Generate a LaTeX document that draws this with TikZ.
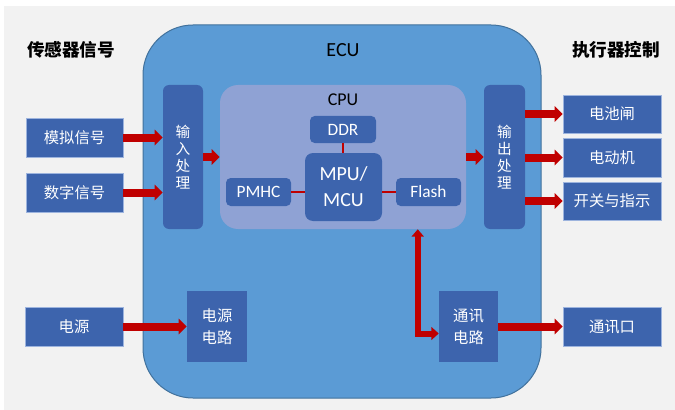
\documentclass[tikz,border=0pt]{standalone}
\usepackage{fontspec}
\setmainfont{Carlito}
\newfontfamily\cjk{Noto Sans CJK SC}
\usetikzlibrary{arrows.meta}
\definecolor{pagebg}{HTML}{F2F2F2}
\definecolor{ecufill}{HTML}{5B9BD5}
\definecolor{eculine}{HTML}{41719C}
\definecolor{boxblue}{HTML}{3D64AD}
\definecolor{boxedge}{HTML}{9DB4DE}
\definecolor{cpufill}{HTML}{8FA2D4}
\definecolor{sigred}{HTML}{C00000}
\tikzset{
  blockbox/.style={fill=boxblue, text=white, inner sep=0pt, align=center,
    font=\cjk\fontsize{11.5}{16.5}\selectfont},
  outerbox/.style={blockbox, draw=boxedge, line width=0.6pt},
  procbox/.style={blockbox, rounded corners=4.5pt, minimum width=30pt, minimum height=108pt,
    font=\cjk\fontsize{11}{12.6}\selectfont},
  chipbox/.style={fill=boxblue, text=white, inner sep=0pt, rounded corners=3.5pt,
    font=\fontsize{13}{15}\selectfont},
  heading/.style={font=\cjk\bfseries\fontsize{13.2}{15}\selectfont, text=black, inner sep=0pt},
  bigarrow/.style={draw=sigred, line width=6pt, -{Triangle[length=6pt,width=11.5pt]}},
  busarrow/.style={draw=sigred, line width=4.5pt,
    {Triangle[length=5.5pt,width=9pt]}-{Triangle[length=5.5pt,width=9.5pt]}},
  thinred/.style={draw=sigred, line width=1.5pt}
}
\begin{document}
\begin{tikzpicture}[x=0.75pt,y=-0.75pt]
\useasboundingbox (0,0) rectangle (675,410);
% page background
\fill[white] (0,0) rectangle (675,410);
\fill[pagebg] (4,6) rectangle (675,410);

% ECU housing
\draw[fill=ecufill, draw=eculine, line width=0.75pt, rounded corners=37.5pt]
  (143,25) rectangle (541,398);

% headings
\node[heading] (tsens) at (71,50) {传感器信号};
\node[heading] (tact) at (616,50) {执行器控制};
\node[font=\fontsize{15}{18}\selectfont, inner sep=0pt] (tecu) at (343,50) {ECU};

% sensor inputs
\node[outerbox, minimum width=72.75pt, minimum height=29.25pt] (ana) at (74.5,137.5) {模拟信号};
\node[outerbox, minimum width=72.75pt, minimum height=29.25pt] (dig) at (74.5,192.5) {数字信号};

% input / output stages
\node[procbox] (inproc) at (183,157) {输\\入\\处\\理};
\node[procbox, minimum width=30.75pt] (outproc) at (504.5,157) {输\\出\\处\\理};

% CPU block
\node[fill=cpufill, rounded corners=13.5pt, minimum width=184.5pt, minimum height=108pt, inner sep=0pt] (cpu) at (343,157) {};
\node[font=\fontsize{13.5}{16}\selectfont, inner sep=0pt] (cpulbl) at (343,100) {CPU};
\node[chipbox, minimum width=49.5pt, minimum height=20.25pt] (ddr) at (343,129.5) {DDR};
\node[chipbox, rounded corners=6pt, minimum width=57.75pt, minimum height=51pt, align=center,
  font=\fontsize{15}{19.5}\selectfont] (mpu) at (343.5,187) {MPU/\\MCU};
\node[chipbox, minimum width=48.75pt, minimum height=21pt] (pmhc) at (258.5,192) {PMHC};
\node[chipbox, minimum width=48.75pt, minimum height=21pt] (flash) at (428.5,192) {Flash};

\draw[thinred] (ddr.south) -- (ddr.south |- mpu.north);
\draw[thinred] (pmhc.east) -- (pmhc.east -| mpu.west);
\draw[thinred] (flash.west -| mpu.east) -- (flash.west);

% actuator outputs
\node[outerbox, minimum width=73.5pt, minimum height=28.5pt] (bat) at (612,114) {电池闸};
\node[outerbox, minimum width=73.5pt, minimum height=29.25pt] (motor) at (612,157.5) {电动机};
\node[outerbox, minimum width=73.5pt, minimum height=28.5pt] (sw) at (612,201) {开关与指示};

% power and communication
\node[outerbox, minimum width=73.5pt, minimum height=29.25pt] (pwr) at (74,326.5) {电源};
\node[blockbox, minimum width=45pt, minimum height=53.25pt] (pwrc) at (217,326.5) {电源\\电路};
\node[blockbox, minimum width=44.25pt, minimum height=53.25pt] (comm) at (468.5,326.5) {通讯\\电路};
\node[outerbox, minimum width=73.5pt, minimum height=29.25pt] (port) at (612,326.5) {通讯口};

% signal arrows
\draw[bigarrow] (ana.east) -- (ana.east -| inproc.west);
\draw[bigarrow] (dig.east) -- (dig.east -| inproc.west);
\draw[bigarrow] (inproc.east) -- (cpu.west);
\draw[bigarrow] (cpu.east) -- (outproc.west);
\draw[bigarrow] (outproc.east |- bat.west) -- (bat.west);
\draw[bigarrow] (outproc.east |- motor.west) -- (motor.west);
\draw[bigarrow] (outproc.east |- sw.west) -- (sw.west);
\draw[bigarrow] (pwr.east) -- (pwrc.west);
\draw[bigarrow] (comm.east) -- (port.west);

% CPU <-> communication bus
\coordinate (busx) at ([xshift=-15.75pt]comm.west);
\coordinate (bustop) at (busx |- cpu.south);
\coordinate (busend) at ([yshift=-5.25pt]comm.west);
\draw[busarrow] (bustop) |- (busend);
\end{tikzpicture}
\end{document}
